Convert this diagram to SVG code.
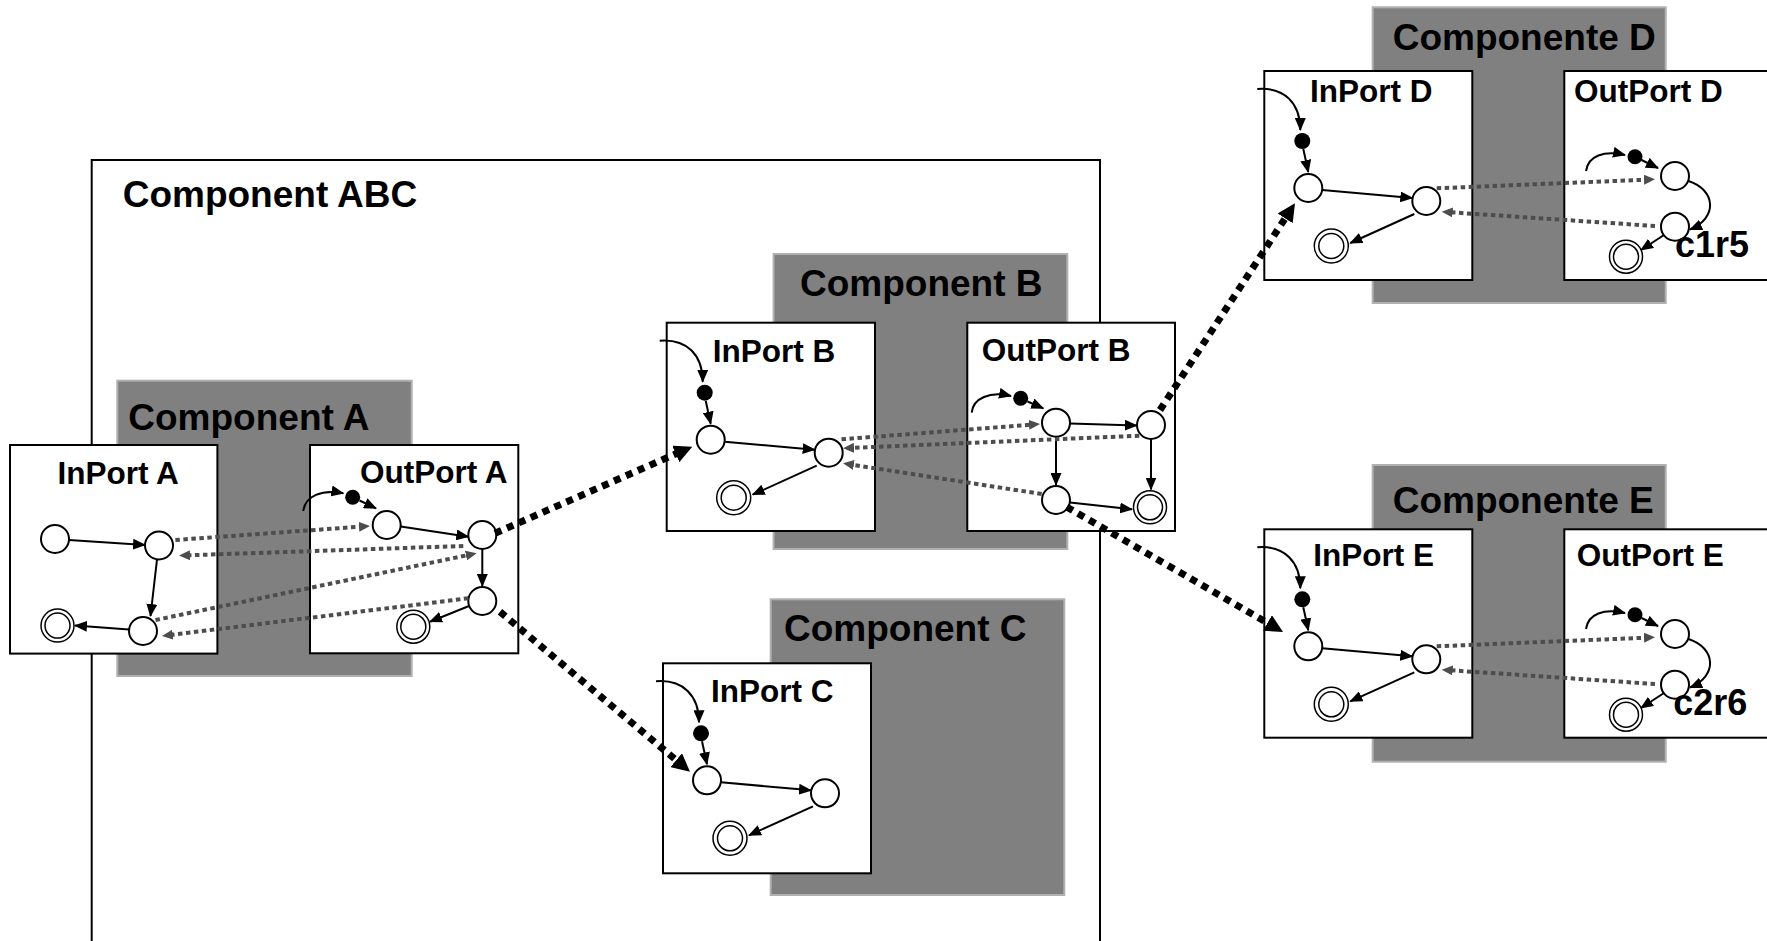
<svg xmlns="http://www.w3.org/2000/svg" width="1767" height="941" viewBox="0 0 1767 941">
  <defs>
    <!-- solid transition arrowhead -->
    <marker id="arrow" markerUnits="userSpaceOnUse" markerWidth="13" markerHeight="11" refX="12" refY="5.5" orient="auto">
      <path d="M0,0 L13,5.5 L0,11 z" fill="#000"/>
    </marker>
    <!-- grey message arrowhead -->
    <marker id="arrow-msg" markerUnits="userSpaceOnUse" markerWidth="11" markerHeight="10" refX="2" refY="5" orient="auto">
      <path d="M0,0 L11,5 L0,10 z" fill="#4d4d4d"/>
    </marker>
    <!-- heavy port-link arrowhead -->
    <marker id="arrow-link" markerUnits="userSpaceOnUse" markerWidth="18" markerHeight="18" refX="1" refY="9" orient="auto">
      <path d="M0,0 L18,9 L0,18 z" fill="#000"/>
    </marker>
  </defs>
  <style>
    .frame{fill:none;stroke:#000;stroke-width:2}
    .comp{fill:#808080;stroke:#b0b0b0;stroke-width:2}
    .port{fill:#fff;stroke:#000;stroke-width:2}
    .st{fill:#fff;stroke:#000;stroke-width:2}
    .fin{fill:#fff;stroke:#000;stroke-width:1.5}
    .ini{fill:#000}
    .tr{fill:none;stroke:#000;stroke-width:2;marker-end:url(#arrow)}
    .msg{fill:none;stroke:#4d4d4d;stroke-width:4;stroke-dasharray:4.5 3.5;marker-end:url(#arrow-msg)}
    .link{fill:none;stroke:#000;stroke-width:7;stroke-dasharray:7 6;marker-end:url(#arrow-link)}
    text{font-family:"Liberation Sans",Arial,Helvetica,sans-serif;font-weight:bold;fill:#000}
    .lc{font-size:37px}
    .lp{font-size:31.5px}
    .lr{font-size:36px}
  </style>

  <rect width="1767" height="941" fill="#fff"/>

  <!-- outer composite -->
  <g id="component-abc">
    <rect class="frame" x="91.7" y="160" width="1008.3" height="850"/>
    <text class="lc" x="122.7" y="206.7">Component ABC</text>
  </g>

  <!-- component bodies -->
  <g id="component-a">
    <rect class="comp" x="117.3" y="380.7" width="294.4" height="295.3"/>
    <text class="lc" x="128.3" y="430">Component A</text>
  </g>
  <g id="component-b">
    <rect class="comp" x="773.6" y="254" width="293.7" height="295"/>
    <text class="lc" x="800" y="296">Component B</text>
  </g>
  <g id="component-c">
    <rect class="comp" x="770.7" y="599.3" width="293.6" height="295.7"/>
    <text class="lc" x="784" y="641">Component C</text>
  </g>
  <g id="component-d">
    <rect class="comp" x="1372.7" y="7.3" width="293" height="295.7"/>
    <text class="lc" x="1392.7" y="50">Componente D</text>
  </g>
  <g id="component-e">
    <rect class="comp" x="1372.7" y="465" width="293" height="296.7"/>
    <text class="lc" x="1392.7" y="513.3">Componente E</text>
  </g>

  <!-- InPort A -->
  <g id="inport-a">
    <rect class="port" x="10" y="445" width="207.4" height="208.6"/>
    <text class="lp" x="57.5" y="484">InPort A</text>
    <circle class="st" cx="55" cy="539" r="14"/>
    <path class="tr" d="M69,540 L145,545"/>
    <circle class="st" cx="159" cy="545.5" r="14"/>
    <path class="tr" d="M157,559.5 L150.5,616"/>
    <circle class="st" cx="143" cy="631" r="14"/>
    <path class="tr" d="M129,629.5 L75,625.5"/>
    <circle class="fin" cx="57.5" cy="625.6" r="16.5"/>
    <circle class="fin" cx="57.5" cy="625.6" r="12.5"/>
  </g>

  <!-- OutPort A -->
  <g id="outport-a">
    <rect class="port" x="310" y="445" width="208.3" height="208.3"/>
    <text class="lp" x="360" y="483.3">OutPort A</text>
    <path class="tr" d="M303.3,511 C305,496 322,489 343.3,493.3"/>
    <circle class="ini" cx="352.7" cy="497.3" r="7.5"/>
    <path class="tr" d="M359.5,500.5 L376,508.3"/>
    <circle class="st" cx="386.7" cy="525" r="14"/>
    <path class="tr" d="M400.7,526.5 L468.3,536.7"/>
    <circle class="st" cx="482.3" cy="535" r="14"/>
    <path class="tr" d="M482.3,549 L482.3,586"/>
    <circle class="st" cx="482.3" cy="601" r="14"/>
    <path class="tr" d="M469,606 L430,621.7"/>
    <circle class="fin" cx="413.3" cy="626.7" r="16.5"/>
    <circle class="fin" cx="413.3" cy="626.7" r="12.5"/>
  </g>

  <!-- InPort B -->
  <g id="inport-b" transform="translate(666.7,322.7)">
    <rect class="port" x="0" y="0" width="208.3" height="208.3"/>
    <text class="lp" x="46" y="39.5">InPort B</text>
    <path class="tr" d="M-7,18 C20,16 36,32 36,59"/>
    <circle class="ini" cx="38" cy="70" r="8"/>
    <path class="tr" d="M39,78 L44,101"/>
    <circle class="st" cx="44" cy="117" r="14"/>
    <path class="tr" d="M58,119 L148,127"/>
    <circle class="st" cx="162" cy="130" r="14"/>
    <path class="tr" d="M150,143 L86,172"/>
    <circle class="fin" cx="67" cy="175" r="17"/>
    <circle class="fin" cx="67" cy="175" r="12.5"/>
  </g>

  <!-- OutPort B -->
  <g id="outport-b">
    <rect class="port" x="967.3" y="322.7" width="207.7" height="208.3"/>
    <text class="lp" x="981.7" y="360.7">OutPort B</text>
    <path class="tr" d="M971.7,412.7 C973,398 990,391 1011,396"/>
    <circle class="ini" cx="1020.7" cy="398.3" r="7.5"/>
    <path class="tr" d="M1027.5,401.5 L1043.3,408.3"/>
    <circle class="st" cx="1056" cy="422.7" r="14"/>
    <path class="tr" d="M1070,423.5 L1136.7,425.5"/>
    <circle class="st" cx="1151" cy="425" r="14"/>
    <path class="tr" d="M1056,436.7 L1056,485"/>
    <circle class="st" cx="1056" cy="500" r="14"/>
    <path class="tr" d="M1151,439 L1151,489.5"/>
    <path class="tr" d="M1070,502.5 L1132,509.3"/>
    <circle class="fin" cx="1150" cy="507.3" r="16.5"/>
    <circle class="fin" cx="1150" cy="507.3" r="12.5"/>
  </g>

  <!-- InPort C -->
  <g id="inport-c" transform="translate(663,663.3)">
    <rect class="port" x="0" y="0" width="208" height="210"/>
    <text class="lp" x="48" y="39">InPort C</text>
    <path class="tr" d="M-7,18 C20,16 36,32 36,59"/>
    <circle class="ini" cx="38" cy="70" r="8"/>
    <path class="tr" d="M39,78 L44,101"/>
    <circle class="st" cx="44" cy="117" r="14"/>
    <path class="tr" d="M58,119 L148,127"/>
    <circle class="st" cx="162" cy="130" r="14"/>
    <path class="tr" d="M150,143 L86,172"/>
    <circle class="fin" cx="67" cy="175" r="17"/>
    <circle class="fin" cx="67" cy="175" r="12.5"/>
  </g>

  <!-- InPort D -->
  <g id="inport-d" transform="translate(1264.3,71)">
    <rect class="port" x="0" y="0" width="208" height="209"/>
    <text class="lp" x="45.7" y="31">InPort D</text>
    <path class="tr" d="M-7,18 C20,16 36,32 36,59"/>
    <circle class="ini" cx="38" cy="70" r="8"/>
    <path class="tr" d="M39,78 L44,101"/>
    <circle class="st" cx="44" cy="117" r="14"/>
    <path class="tr" d="M58,119 L148,127"/>
    <circle class="st" cx="162" cy="130" r="14"/>
    <path class="tr" d="M150,143 L86,172"/>
    <circle class="fin" cx="67" cy="175" r="17"/>
    <circle class="fin" cx="67" cy="175" r="12.5"/>
  </g>

  <!-- OutPort D -->
  <g id="outport-d">
    <rect class="port" x="1564.3" y="71" width="220" height="209"/>
    <text class="lp" x="1574" y="102">OutPort D</text>
    <path class="tr" d="M1586,171 C1588,156 1604,150 1625,155"/>
    <circle class="ini" cx="1635" cy="156.7" r="7.5"/>
    <path class="tr" d="M1641.5,160 L1658,168"/>
    <circle class="st" cx="1675" cy="176" r="14"/>
    <path class="tr" d="M1688.5,181 C1716,190 1718,218 1690,229.5"/>
    <circle class="st" cx="1675" cy="226.7" r="14"/>
    <path class="tr" d="M1664,235 L1641,250"/>
    <circle class="fin" cx="1626" cy="256.7" r="16.5"/>
    <circle class="fin" cx="1626" cy="256.7" r="12.5"/>
    <text class="lr" x="1675" y="256.7">c1r5</text>
  </g>

  <!-- InPort E -->
  <g id="inport-e" transform="translate(1264.3,529.3)">
    <rect class="port" x="0" y="0" width="208" height="208.4"/>
    <text class="lp" x="49" y="36.7">InPort E</text>
    <path class="tr" d="M-7,18 C20,16 36,32 36,59"/>
    <circle class="ini" cx="38" cy="70" r="8"/>
    <path class="tr" d="M39,78 L44,101"/>
    <circle class="st" cx="44" cy="117" r="14"/>
    <path class="tr" d="M58,119 L148,127"/>
    <circle class="st" cx="162" cy="130" r="14"/>
    <path class="tr" d="M150,143 L86,172"/>
    <circle class="fin" cx="67" cy="175" r="17"/>
    <circle class="fin" cx="67" cy="175" r="12.5"/>
  </g>

  <!-- OutPort E -->
  <g id="outport-e">
    <rect class="port" x="1564.3" y="529.3" width="220" height="208.4"/>
    <text class="lp" x="1576.7" y="566">OutPort E</text>
    <path class="tr" d="M1586,629 C1588,614 1604,608 1625,613"/>
    <circle class="ini" cx="1635" cy="614.7" r="7.5"/>
    <path class="tr" d="M1641.5,618 L1658,626"/>
    <circle class="st" cx="1675" cy="634" r="14"/>
    <path class="tr" d="M1688.5,639 C1716,648 1718,676 1690,687.5"/>
    <circle class="st" cx="1675" cy="684.7" r="14"/>
    <path class="tr" d="M1664,693 L1641,708"/>
    <circle class="fin" cx="1626" cy="714.7" r="16.5"/>
    <circle class="fin" cx="1626" cy="714.7" r="12.5"/>
    <text class="lr" x="1673.3" y="715">c2r6</text>
  </g>

  <!-- connectors between ports -->
  <g id="connectors">
    <!-- A: in/out message exchanges -->
    <path class="msg" d="M175.4,540 L361,526.6"/>
    <path class="msg" d="M463.3,546 L188,555.3"/>
    <path class="msg" d="M155.5,620 L467.9,555.1"/>
    <path class="msg" d="M468.3,598.3 L170.9,634.9"/>
    <!-- B -->
    <path class="msg" d="M841.5,439.3 L1031,424.7"/>
    <path class="msg" d="M1139.3,435.7 L852,447.9"/>
    <path class="msg" d="M1041.7,494 L851.9,464.7"/>
    <!-- D -->
    <path class="msg" d="M1436.7,188.3 L1646,179.7"/>
    <path class="msg" d="M1655,226 L1450.7,212.3"/>
    <!-- E -->
    <path class="msg" d="M1436.7,646.3 L1646,637.7"/>
    <path class="msg" d="M1655,684 L1450.7,670.3"/>

    <!-- port-to-port links -->
    <path class="link" d="M495,533.3 L676.7,453.5"/>
    <path class="link" d="M500,611.7 L677,760.8"/>
    <path class="link" d="M1160,410 L1285.7,217.5"/>
    <path class="link" d="M1066.7,507 L1268.3,623.5"/>
  </g>
</svg>
